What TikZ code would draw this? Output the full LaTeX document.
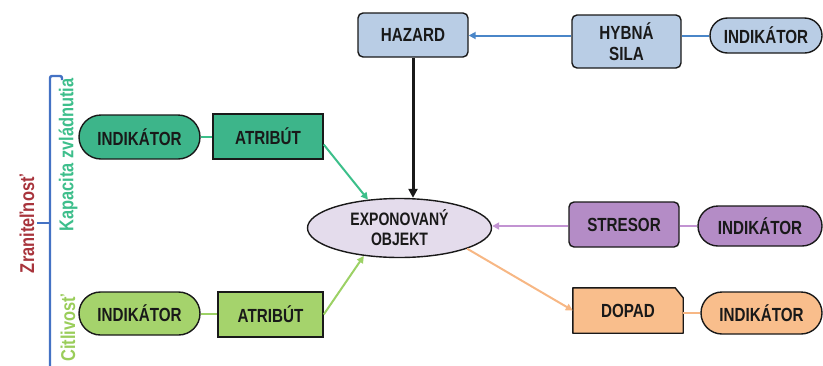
\documentclass[tikz,border=0pt]{standalone}
\usepackage{fontspec}
\setmainfont{Liberation Sans}
\newfontfamily\cond[FakeStretch=0.8]{Liberation Sans}
\newfontfamily\condell[FakeStretch=0.78]{Liberation Sans}
\newfontfamily\condside[FakeStretch=0.82]{Liberation Sans}
\usetikzlibrary{shapes.geometric,shapes.misc,arrows.meta,backgrounds}
\definecolor{bluefill}{HTML}{B9CDE5}
\definecolor{blueline}{HTML}{4A86C8}
\definecolor{tealfill}{HTML}{3DB58A}
\definecolor{tealline}{HTML}{3CBF8A}
\definecolor{lgfill}{HTML}{A5D36C}
\definecolor{lgline}{HTML}{9CD165}
\definecolor{purfill}{HTML}{B48CC6}
\definecolor{purline}{HTML}{C293D2}
\definecolor{orfill}{HTML}{F9BE8C}
\definecolor{orline}{HTML}{F7B784}
\definecolor{ellfill}{HTML}{E4DCEC}
\definecolor{bracecol}{HTML}{4472C4}
\definecolor{zrcol}{HTML}{A8343C}
\definecolor{kapcol}{HTML}{3DBE8B}
\definecolor{citcol}{HTML}{9ACD5A}
\begin{document}
\begin{tikzpicture}[x=1pt,y=-1pt,
  txt/.style={font=\cond\bfseries\fontsize{19}{21}\selectfont, align=center, inner sep=0pt, text=black!90},
  rbox/.style={txt, draw=black!90, line width=1.4pt, rounded corners=5pt},
  sbox/.style={txt, draw=black!90, line width=1.4pt},
  pill/.style={txt, rounded rectangle, draw=black!90, line width=1.4pt},
  conn/.style={line width=2pt},
  tip/.style={-{Triangle[length=7pt,width=7pt]}},
  side/.style={rotate=90, inner sep=0pt, font=\condside\bfseries\fontsize{20}{22}\selectfont}]
\useasboundingbox (0,0) rectangle (823,365);

% nodes
\node[rbox, fill=bluefill, minimum width=110pt, minimum height=44pt] (hazard) at (413,35) {HAZARD};
\node[rbox, fill=bluefill, minimum width=109pt, minimum height=53pt] (hybna) at (626.5,41.5) {HYBNÁ\\SILA};
\node[pill, fill=bluefill, minimum width=112pt, minimum height=35pt] (ind1) at (766,35.5) {INDIKÁTOR};

\node[ellipse, draw=black!90, line width=1.4pt, fill=ellfill, minimum width=184pt, minimum height=59pt, inner sep=0pt, align=center, text=black!90, font=\condell\bfseries\fontsize{18}{20}\selectfont] (ell) at (399.5,228) {EXPONOVANÝ\\OBJEKT};

\node[rbox, fill=purfill, minimum width=110pt, minimum height=45pt] (stresor) at (624,224.5) {STRESOR};
\node[pill, fill=purfill, minimum width=124pt, minimum height=40pt] (ind3) at (760,226) {INDIKÁTOR};

\node[txt, minimum width=110pt, minimum height=45pt] (dopad) at (628,310.5) {DOPAD};
\begin{scope}[on background layer]
\filldraw[fill=orfill, draw=black!90, line width=1.4pt, line join=round]
  (dopad.south west) -- (dopad.north west) -- ([xshift=-8pt]dopad.north east)
  -- ([yshift=-10pt]dopad.north east) -- (dopad.south east) -- cycle;
\end{scope}
\node[pill, fill=orfill, minimum width=121pt, minimum height=42pt] (ind4) at (761.5,313) {INDIKÁTOR};

\node[sbox, fill=tealfill, minimum width=110pt, minimum height=45pt] (atr1) at (268,136.5) {ATRIBÚT};
\node[pill, fill=tealfill, minimum width=121pt, minimum height=44pt] (ind5) at (139.5,137) {INDIKÁTOR};
\node[sbox, fill=lgfill, minimum width=105pt, minimum height=45pt] (atr2) at (270.5,314.5) {ATRIBÚT};
\node[pill, fill=lgfill, minimum width=121pt, minimum height=43pt] (ind6) at (139.5,313.5) {INDIKÁTOR};

% connectors
\draw[conn, blueline, tip] (hybna.west |- ind1.west) -- (hazard.east |- ind1.west);
\draw[conn, blueline] (ind1.west) -- (hybna.east |- ind1.west);
\draw[line width=3pt, black!90, -{Triangle[length=9pt,width=9pt]}] (hazard.south) -- (hazard.south |- ell.north);
\draw[conn, purline, tip] (stresor.west |- ind3.west) -- (ell.east |- ind3.west);
\draw[conn, purline] (stresor.east |- ind3.west) -- (ind3.west);
\draw[conn, orline, tip] (ell.-17) -- (dopad.west);
\draw[conn, orline] (dopad.east |- ind4.west) -- (ind4.west);
\draw[conn, tealline, tip] ([yshift=-8pt]atr1.east) -- (ell.138);
\draw[conn, tealline] (ind5.east) -- (atr1.west |- ind5.east);
\draw[conn, lgline, tip] (atr2.east) -- (ell.218);
\draw[conn, lgline] (ind6.east) -- (atr2.west |- ind6.east);

% bracket
\draw[bracecol, line width=2.4pt, rounded corners=2pt] (62,80) -- (62,76) -- (50,76) -- (50,366);
\draw[bracecol, line width=2.4pt] (50,223) -- (37,223);

% side labels
\node[side, text=zrcol] (zr) at (27,224) {Zraniteľnosť};
\node[side, text=kapcol] (kap) at (68,155) {Kapacita zvládnutia};
\node[side, text=citcol] (cit) at (68,328) {Citlivosť};
\end{tikzpicture}
\end{document}
